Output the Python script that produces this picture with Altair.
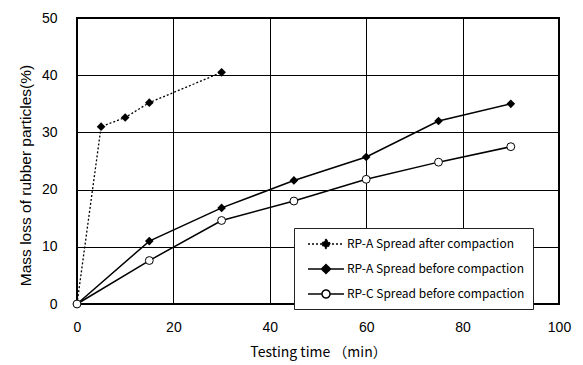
import altair as alt
import pandas as pd

series_names = [
    "RP-A Spread after compaction",
    "RP-A Spread before compaction",
    "RP-C Spread before compaction",
]
after_time = [0, 5, 10, 15, 30]
after_loss = [0, 31.0, 32.6, 35.2, 40.5]
before_time = [0, 15, 30, 45, 60, 75, 90]
rpa_before_loss = [0, 11.0, 16.8, 21.6, 25.7, 32.0, 35.0]
rpc_before_loss = [0, 7.6, 14.6, 18.0, 21.8, 24.8, 27.5]
x_ticks = [0, 20, 40, 60, 80, 100]
y_ticks = [0, 10, 20, 30, 40, 50]

rows = []
for t, v in zip(after_time, after_loss):
    rows.append({"time": t, "loss": v, "series": series_names[0]})
for t, v in zip(before_time, rpa_before_loss):
    rows.append({"time": t, "loss": v, "series": series_names[1]})
for t, v in zip(before_time, rpc_before_loss):
    rows.append({"time": t, "loss": v, "series": series_names[2]})
df = pd.DataFrame(rows)

x_enc = alt.X("time:Q", scale=alt.Scale(domain=[0, 100], nice=False),
              axis=alt.Axis(values=x_ticks, title="Testing time （min）", labelFlush=False,
                            titleFont="Noto Sans CJK JP", titleFontSize=14,
                            titleFontWeight="normal", labelPadding=16, titlePadding=11))
y_enc = alt.Y("loss:Q", scale=alt.Scale(domain=[0, 50], nice=False),
              axis=alt.Axis(values=y_ticks, title="Mass loss of rubber particles(%)", labelFlush=False,
                            titleFont="Liberation Sans", titleFontSize=15.5,
                            titleFontWeight="normal", labelPadding=20, titlePadding=8,
                            titleY=157))

base = alt.Chart(df).encode(x=x_enc, y=y_enc)

dash_range = [[2, 2], [1, 0], [1, 0]]

line_dot = base.transform_filter(alt.datum.series == series_names[0]).mark_line(
    color="black", strokeWidth=1.3, strokeDash=[2, 2]
)
line_solid = base.transform_filter(alt.datum.series != series_names[0]).mark_line(
    color="black", strokeWidth=1.5
).encode(detail="series:N")

pts_d = base.transform_filter(alt.datum.series != series_names[2]).mark_point(
    shape="diamond", filled=True, color="black", size=75, opacity=1
)
pts_c = base.transform_filter(alt.datum.series == series_names[2]).mark_point(
    shape="circle", filled=False, fill="white", stroke="black", strokeWidth=1, size=62, opacity=1
)

diamond_path = "M-2.57,0H2.57M0,-0.64L0.64,0L0,0.64L-0.64,0Z"
circle_path = "M-2.57,0H-0.57M0.57,0H2.57M-0.57,0A0.57,0.57 0 1,0 0.57,0A0.57,0.57 0 1,0 -0.57,0Z"

leg = alt.Legend(
    title=None, orient="none", legendX=217, legendY=210, padding=8,
    symbolOffset=16, labelOffset=13, rowPadding=9, symbolSize=196,
    symbolStrokeWidth=1.5, symbolStrokeColor="black",
    labelFont="Noto Sans CJK JP", labelFontSize=12, labelColor="black", labelLimit=400,
    strokeColor="#222", fillColor="white",
)

legend_layer = base.transform_filter("false").mark_point(
    strokeWidth=1.5, opacity=1
).encode(
    shape=alt.Shape("series:N", scale=alt.Scale(domain=series_names,
                    range=[diamond_path, diamond_path, circle_path]), legend=leg),
    fill=alt.Fill("series:N", scale=alt.Scale(domain=series_names,
                  range=["black", "black", "white"]), legend=leg),
    stroke=alt.Stroke("series:N", scale=alt.Scale(domain=series_names,
                      range=["black", "black", "black"]), legend=leg),
    strokeDash=alt.StrokeDash("series:N", scale=alt.Scale(domain=series_names, range=dash_range), legend=leg),
)

chart = alt.layer(line_dot, line_solid, pts_d, pts_c, legend_layer).properties(
    width=482, height=286,
    autosize=alt.AutoSizeParams(type="none"),
    padding={"left": 69, "top": 10, "right": 14, "bottom": 60},
    background="white",
).configure_view(
    stroke="black", strokeWidth=2
).configure_axis(
    domain=False, grid=True, gridColor="black", gridOpacity=1, gridWidth=1,
    ticks=False, labelFont="Liberation Sans", labelFontSize=14, labelColor="black",
    titleColor="black",
)

chart.save("out.html", embed_options={"renderer": "svg", "actions": False})
